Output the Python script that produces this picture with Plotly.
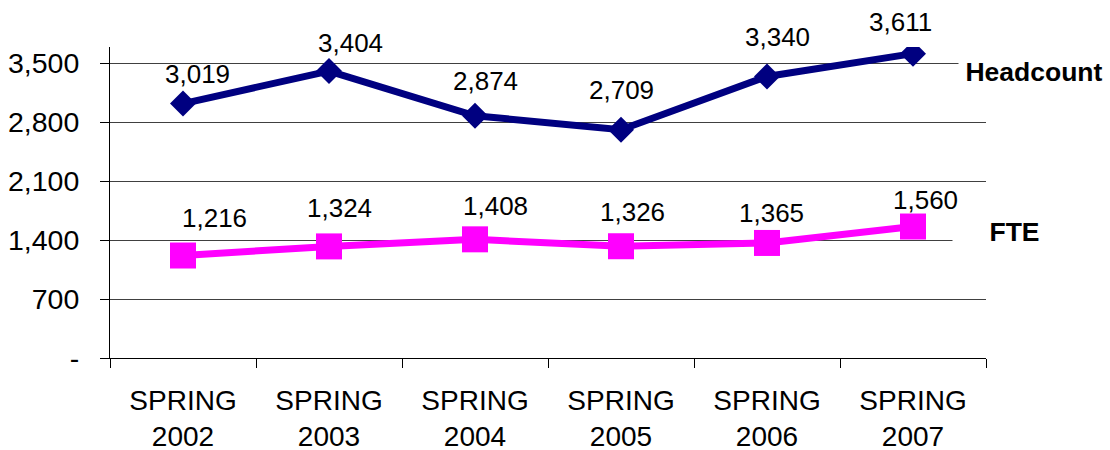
import plotly.graph_objects as go

categories = ["SPRING<br>2002", "SPRING<br>2003", "SPRING<br>2004",
              "SPRING<br>2005", "SPRING<br>2006", "SPRING<br>2007"]
headcount = [3019, 3404, 2874, 2709, 3340, 3611]
fte = [1216, 1324, 1408, 1326, 1365, 1560]
y_ticks = [0, 700, 1400, 2100, 2800, 3500]
y_tick_labels = ["-", "700", "1,400", "2,100", "2,800", "3,500"]

# pixel nudges for the value labels (Excel placed them a little irregularly)
hc_shift_x = [14, 21, 10, 0, 10, -13]
hc_shift_y = [30, 28, 35, 40, 40, 32]
fte_shift_x = [31, 10, 20, 11, 4, 12]
fte_shift_y = [38, 38, 33, 34, 30, 27]

FONT = "Arial, Liberation Sans, sans-serif"

fig = go.Figure()

fig.add_trace(go.Scatter(x=categories, y=headcount, name="Headcount", mode="lines+markers",
                         line=dict(color="#000080", width=7),
                         marker=dict(symbol="diamond", size=20, color="#000080")))
fig.add_trace(go.Scatter(x=categories, y=fte, name="FTE", mode="lines+markers",
                         line=dict(color="#FF00FF", width=7),
                         marker=dict(symbol="square", size=26, color="#FF00FF")))

annotations = []
for vals, dx, dy in [(headcount, hc_shift_x, hc_shift_y), (fte, fte_shift_x, fte_shift_y)]:
    for c, v, sx, sy in zip(categories, vals, dx, dy):
        annotations.append(dict(x=c, y=v, text=f"{v:,}", showarrow=False,
                                xshift=sx, yshift=sy, font=dict(size=26, color="black")))

# series names at the right end, white boxes hide the gridline underneath
annotations.append(dict(xref="paper", yref="paper", x=0.9623, y=0.9196, xanchor="left", yanchor="middle",
                        xshift=5, text="<b>Headcount</b>", showarrow=False, width=150, height=30,
                        align="center", bgcolor="white", borderpad=0, font=dict(size=26.5, color="black")))
annotations.append(dict(xref="paper", yref="paper", x=0.9623, y=0.405, xanchor="left", yanchor="middle",
                        xshift=-1, text="<b>FTE</b>", showarrow=False, width=123, height=30,
                        align="center", bgcolor="white", borderpad=0, font=dict(size=26.5, color="black")))

fig.update_layout(
    width=1110, height=450,
    margin=dict(l=110, r=124, t=47, b=92),
    plot_bgcolor="white", paper_bgcolor="white",
    font=dict(family=FONT, color="black"),
    showlegend=False,
    annotations=annotations,
)

fig.update_xaxes(type="category", range=[-0.5, 5.5], showline=True, linecolor="black", linewidth=1,
                 ticks="outside", tickson="boundaries", ticklen=9, tickcolor="black",
                 showgrid=False, tickfont=dict(size=28), ticklabelstandoff=17, automargin=False)
fig.update_yaxes(range=[0, 3690], tickvals=y_ticks, ticktext=y_tick_labels,
                 showline=True, linecolor="black", linewidth=1,
                 ticks="outside", ticklen=9, tickcolor="black",
                 showgrid=True, gridcolor="#404040", gridwidth=1, zeroline=False,
                 tickfont=dict(size=28.5), ticklabelstandoff=15, automargin=False)

# drop the browser's default 8px body margin so the figure sits at the page corner
fig.write_html("out.html", config={"displayModeBar": False},
               post_script="document.body.style.margin='0';")
